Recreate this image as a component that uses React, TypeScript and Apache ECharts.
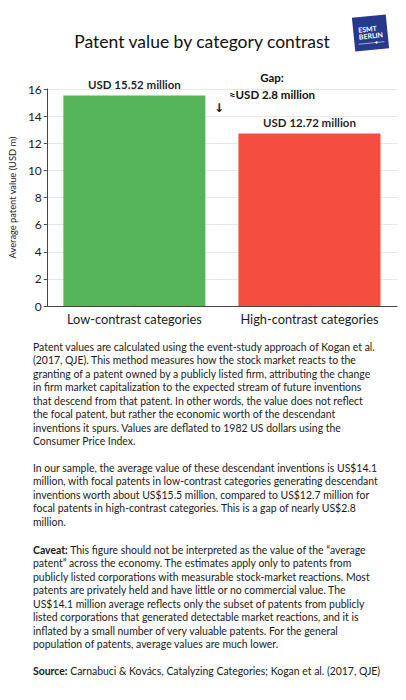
import React, { useEffect, useRef } from "react";
import * as echarts from "echarts";

const categories = ["Low-contrast categories", "High-contrast categories"];
const values = [15.52, 12.72];
const barColors = ["#4caf50", "#f44336"];
const valueLabels = ["USD 15.52 million", "USD 12.72 million"];
const yTicks = [0, 2, 4, 6, 8, 10, 12, 14, 16];

const title = "Patent value by category contrast";
const yAxisName = "Average patent value (USD m)";
const gapLines = ["Gap:", "≈USD 2.8 million"];

const para1 = [
  "Patent values are calculated using the event-study approach of Kogan et al.",
  "(2017, QJE). This method measures how the stock market reacts to the",
  "granting of a patent owned by a publicly listed firm, attributing the change",
  "in firm market capitalization to the expected stream of future inventions",
  "that descend from that patent. In other words, the value does not reflect",
  "the focal patent, but rather the economic worth of the descendant",
  "inventions it spurs. Values are deflated to 1982 US dollars using the",
  "Consumer Price Index.",
];
const para2 = [
  "In our sample, the average value of these descendant inventions is US$14.1",
  "million, with focal patents in low-contrast categories generating descendant",
  "inventions worth about US$15.5 million, compared to US$12.7 million for",
  "focal patents in high-contrast categories. This is a gap of nearly US$2.8",
  "million.",
];
const para3 = [
  "{b|Caveat:} This figure should not be interpreted as the value of the “average",
  "patent” across the economy. The estimates apply only to patents from",
  "publicly listed corporations with measurable stock-market reactions. Most",
  "patents are privately held and have little or no commercial value. The",
  "US$14.1 million average reflects only the subset of patents from publicly",
  "listed corporations that generated detectable market reactions, and it is",
  "inflated by a small number of very valuable patents. For the general",
  "population of patents, average values are much lower.",
];
const sourceLine = "{b|Source:} Carnabuci & Kovács, Catalyzing Categories; Kogan et al. (2017, QJE)";

const FONT = "Lato, 'Noto Sans', sans-serif";

export default function App() {
  const ref = useRef<HTMLDivElement>(null);
  useEffect(() => {
    if (!ref.current) return;
    const chart = echarts.init(ref.current, null, { renderer: "svg" });
    const LH = 13.57;
    const PF = 10.45;
    const textStyleBase = {
      fontFamily: FONT,
      fontSize: PF,
      fill: "#1a1a1a",
      rich: { b: { fontFamily: FONT, fontSize: PF, fontWeight: "bold", color: "#1a1a1a" } },
    };
    const paraEls: any[] = [];
    const addPara = (lines: string[], y0: number) => {
      lines.forEach((t, i) => {
        paraEls.push({
          type: "text",
          x: 33,
          y: y0 + i * LH,
          style: { ...textStyleBase, text: t, textVerticalAlign: "middle", verticalAlign: "middle" },
        });
      });
    };
    addPara(para1, 346.5);
    addPara(para2, 467.5);
    addPara(para3, 549.5);
    addPara([sourceLine], 671);

    chart.setOption({
      animation: false,
      grid: { left: 43, right: 9, top: 89, bottom: 394, containLabel: false },
      xAxis: {
        type: "category",
        data: categories,
        axisLine: { show: true, lineStyle: { color: "#444", width: 1 } },
        axisTick: { show: true, alignWithLabel: true, inside: true, length: 3, lineStyle: { color: "#444" } },
        axisLabel: { fontFamily: FONT, fontSize: 12.8, color: "#1a1a1a", margin: 6, interval: 0 },
        splitLine: { show: false },
      },
      yAxis: {
        type: "value",
        min: yTicks[0],
        max: yTicks[yTicks.length - 1],
        interval: 2,
        name: yAxisName,
        nameLocation: "middle",
        nameGap: 29,
        nameTextStyle: { fontFamily: FONT, fontSize: 9.3, color: "#1a1a1a" },
        axisLine: { show: true, lineStyle: { color: "#444", width: 1 } },
        axisTick: { show: true, length: 3, lineStyle: { color: "#444" } },
        axisLabel: { fontFamily: FONT, fontSize: 12, color: "#1a1a1a", margin: 5 },
        splitLine: { show: true, lineStyle: { color: "#e8e8e8", width: 1 } },
      },
      series: [
        {
          type: "bar",
          barWidth: 142,
          data: values.map((v, i) => ({
            value: v,
            itemStyle: { color: barColors[i], opacity: 0.95 },
            label: {
              show: true,
              position: "top",
              distance: 5,
              formatter: valueLabels[i],
              fontFamily: FONT,
              fontSize: 11.5,
              fontWeight: "bold",
              color: "#111",
            },
          })),
        },
      ],
      graphic: [
        {
          type: "text",
          x: 202,
          y: 41,
          style: {
            text: title,
            fontFamily: FONT,
            fontSize: 17.5,
            fill: "#111",
            textAlign: "center",
            textVerticalAlign: "middle",
            verticalAlign: "middle",
          },
        },
        {
          type: "group",
          x: 370.5,
          y: 33,
          rotation: 0.1,
          children: [
            { type: "rect", shape: { x: -17, y: -17, width: 34, height: 34 }, style: { fill: "#26398a" } },
            {
              type: "text",
              x: -12,
              y: -4.5,
              style: { text: "ESMT", fontFamily: FONT, fontSize: 7, fontWeight: "bold", fill: "#fff", verticalAlign: "middle", textVerticalAlign: "middle" },
            },
            {
              type: "text",
              x: -12,
              y: 2.5,
              style: { text: "BERLIN", fontFamily: FONT, fontSize: 7, fontWeight: "bold", fill: "#fff", verticalAlign: "middle", textVerticalAlign: "middle" },
            },
            { type: "line", shape: { x1: -13, y1: 10, x2: 13, y2: 10 }, style: { stroke: "#cfd6ee", lineWidth: 0.7 } },
            { type: "circle", shape: { cx: 5, cy: 10, r: 1.2 }, style: { fill: "#ffffff" } },
          ],
        },
        {
          type: "text",
          x: 272,
          y: 77,
          style: { text: gapLines[0], fontFamily: FONT, fontSize: 11.5, fontWeight: "bold", fill: "#111", textAlign: "center", verticalAlign: "middle", textVerticalAlign: "middle" },
        },
        {
          type: "text",
          x: 272,
          y: 94,
          style: { text: gapLines[1], fontFamily: FONT, fontSize: 11.5, fontWeight: "bold", fill: "#111", textAlign: "center", verticalAlign: "middle", textVerticalAlign: "middle" },
        },
        {
          type: "text",
          x: 219,
          y: 108,
          style: { text: "↓", fontFamily: "'DejaVu Sans', sans-serif", fontSize: 12, fontWeight: "bold", fill: "#111", textAlign: "center", verticalAlign: "middle", textVerticalAlign: "middle" },
        },
        ...paraEls,
      ],
    });
    return () => chart.dispose();
  }, []);
  return <div ref={ref} style={{ position: "absolute", left: 0, top: 0, width: 406, height: 700 }} />;
}
